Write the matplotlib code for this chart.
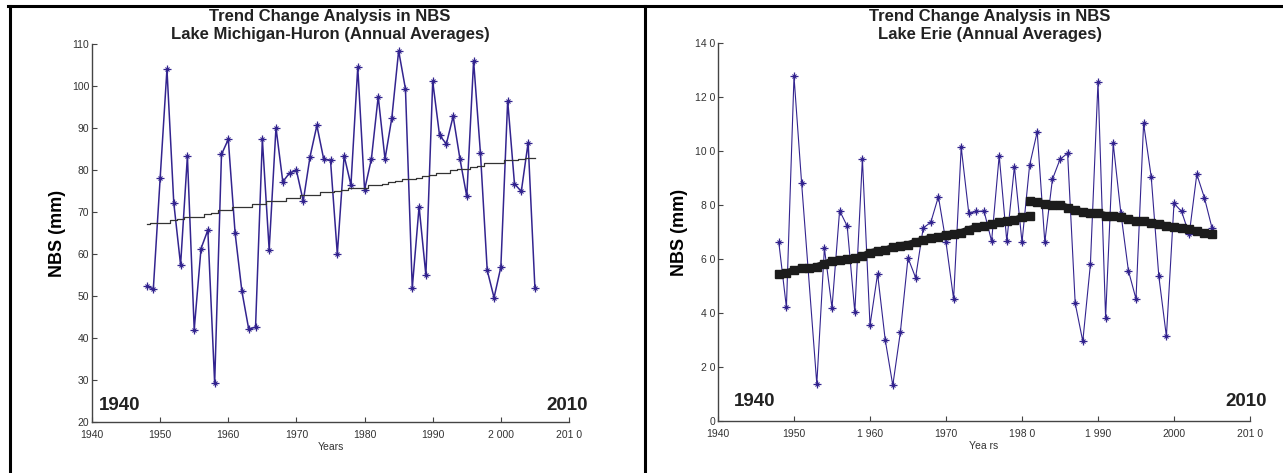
"""Trend change analysis in NBS: Michigan-Huron and Erie, two panels -> out.png"""

import matplotlib

matplotlib.use("Agg")
import matplotlib.pyplot as plt
from matplotlib.lines import Line2D

plt.rcParams["font.family"] = ["Liberation Sans", "DejaVu Sans"]

W, H = 1283, 473

# ── data ──────────────────────────────────────────
YEARS_MH = list(range(1948, 2006))
NBS_MH = [
    52.3, 51.7, 78.0, 104.0, 72.2, 57.4, 83.3, 42.0, 61.3, 65.7,
    29.2, 83.7, 87.3, 65.0, 51.1, 42.1, 42.6, 87.3, 61.0, 90.1,
    77.2, 79.3, 79.9, 72.6, 83.2, 90.6, 82.6, 82.3, 60.0, 83.4,
    76.4, 104.5, 75.3, 82.6, 97.5, 82.6, 92.4, 108.4, 99.3, 51.9,
    71.3, 54.9, 101.1, 88.3, 86.2, 92.8, 82.6, 73.7, 106.0, 84.1,
    56.1, 49.6, 56.9, 96.5, 76.7, 74.9, 86.5, 51.8,
]
TREND_MH = [
    67.2, 67.5, 67.5, 67.5, 68.2, 68.4, 68.9, 68.9, 68.9, 69.6,
    69.7, 70.4, 70.5, 71.1, 71.2, 71.2, 71.9, 72.0, 72.6, 72.6,
    72.6, 73.3, 73.3, 74.0, 74.0, 74.0, 74.7, 74.8, 74.9, 75.2,
    75.8, 75.8, 75.8, 76.5, 76.5, 76.6, 77.2, 77.4, 77.9, 77.9,
    78.0, 78.6, 78.7, 79.3, 79.4, 80.1, 80.2, 80.2, 80.8, 80.9,
    81.6, 81.7, 81.7, 82.3, 82.4, 82.7, 82.8, 82.8,
]

YEARS_ERIE = [1948, 1949, 1950, 1951] + list(range(1953, 2006))
NBS_ERIE = [
    66.2, 42.1, 127.6, 88.2, 13.7, 64.0, 41.9, 77.9, 72.2, 40.3,
    97.1, 35.4, 54.5, 30.1, 13.2, 33.0, 60.4, 53.1, 71.5, 73.6,
    83.1, 66.2, 45.2, 101.4, 76.9, 77.6, 77.8, 66.6, 98.3, 66.6,
    94.2, 66.2, 94.7, 107.1, 66.2, 89.5, 96.9, 99.2, 43.6, 29.5,
    58.0, 125.6, 38.3, 102.8, 77.2, 55.7, 45.2, 110.2, 90.5, 53.7,
    31.3, 80.6, 77.6, 69.1, 91.4, 82.7, 71.5,
]
TREND_ERIE_1_YEARS = list(range(1948, 1982))
TREND_ERIE_1 = [
    54.5, 54.9, 55.8, 56.5, 56.6, 57.2, 58.2, 59.2, 59.5, 60.0,
    60.4, 61.0, 62.3, 63.0, 63.3, 64.3, 65.0, 65.3, 66.3, 67.0,
    67.8, 68.0, 69.0, 69.3, 69.8, 70.9, 71.7, 72.2, 72.8, 73.8,
    74.0, 74.3, 75.5, 76.0,
]
TREND_ERIE_2_YEARS = list(range(1981, 2006))
TREND_ERIE_2 = [
    81.6, 81.0, 80.3, 80.0, 80.0, 79.0, 78.0, 77.5, 77.0, 76.9,
    76.1, 75.8, 75.4, 74.8, 74.0, 73.9, 73.3, 73.1, 72.2, 72.0,
    71.4, 71.0, 70.3, 69.5, 69.2,
]

X_TICKS = [1940, 1950, 1960, 1970, 1980, 1990, 2000, 2010]
X_LABELS_MH = ["1940", "1950", "1960", "1970", "1980", "1990", "2 000", "201 0"]
X_LABELS_ERIE = ["1940", "1950", "1 960", "1970", "198 0", "1 990", "2000", "201 0"]
Y_TICKS_MH = [20, 30, 40, 50, 60, 70, 80, 90, 100, 110]
Y_TICKS_ERIE = [0, 20, 40, 60, 80, 100, 120, 140]
Y_LABELS_ERIE = ["0", "2 0", "4 0", "6 0", "8 0", "10 0", "12 0", "14 0"]

LINE_C = "#33248f"
AX_C = "#444444"


def _ax(fig, x0, y0, x1, y1):
    """axes from pixel box (top-left origin)."""
    return fig.add_axes([x0 / W, 1 - y1 / H, (x1 - x0) / W, (y1 - y0) / H])


def _style(ax, yticks, ylabels, xlabels, xname):
    for s in ("top", "right"):
        ax.spines[s].set_visible(False)
    for s in ("left", "bottom"):
        ax.spines[s].set_color(AX_C)
        ax.spines[s].set_linewidth(1.0)
    ax.set_xlim(1940, 2010)
    ax.set_xticks(X_TICKS)
    ax.set_xticklabels(xlabels)
    ax.set_ylim(yticks[0], yticks[-1])
    ax.set_yticks(yticks)
    ax.set_yticklabels(ylabels)
    ax.tick_params(direction="in", length=3.5, width=0.8, color=AX_C,
                   labelsize=7.5, labelcolor="#333333")
    ax.tick_params(axis="x", pad=5.5)
    ax.tick_params(axis="y", pad=2)
    ax.set_xlabel(xname, fontsize=7.5, color="#333333", labelpad=2)


def _series(ax, years, vals, lw):
    ax.plot(years, vals, "-", color=LINE_C, lw=lw, marker="+", ms=6, mew=0.9)
    ax.plot(years, vals, "x", color=LINE_C, ms=3.5, mew=0.8)


def main() -> None:
    fig = plt.figure(figsize=(W / 100, H / 100), dpi=100)

    # panel frame lines
    px = lambda v: v / W
    py = lambda v: 1 - v / H
    for xs, ys in (([8, W], [6.5, 6.5]), ([10, 10], [6, H]), ([644.5, 644.5], [6, H])):
        fig.add_artist(Line2D([px(v) for v in xs], [py(v) for v in ys],
                              color="black", lw=2.2, transform=fig.transFigure))

    # ── left: Michigan-Huron ──
    ax1 = _ax(fig, 92, 44, 569, 422)
    _series(ax1, YEARS_MH, NBS_MH, 1.1)
    ax1.plot(YEARS_MH, TREND_MH, color="#333333", lw=0.9, drawstyle="steps-mid")
    _style(ax1, Y_TICKS_MH, [str(v) for v in Y_TICKS_MH], X_LABELS_MH, "Years")
    ax1.set_ylabel("NBS (mm)", fontsize=13, fontweight="bold", labelpad=4)

    # ── right: Erie ──
    ax2 = _ax(fig, 718, 43, 1250, 421)
    _series(ax2, YEARS_ERIE, NBS_ERIE, 0.8)
    for yrs, vals in ((TREND_ERIE_1_YEARS, TREND_ERIE_1), (TREND_ERIE_2_YEARS, TREND_ERIE_2)):
        ax2.plot(yrs, vals, color="#1c1c1c", lw=5, marker="s", ms=5.5,
                 solid_capstyle="butt", zorder=3)
    _style(ax2, Y_TICKS_ERIE, Y_LABELS_ERIE, X_LABELS_ERIE, "Yea rs")
    ax2.set_ylabel("NBS (mm)", fontsize=13, fontweight="bold", labelpad=5)

    # titles
    for cx, name in ((330, "Lake Michigan-Huron (Annual Averages)"),
                     (990, "Lake Erie (Annual Averages)")):
        fig.text(px(cx), py(16), "Trend Change Analysis in NBS", ha="center",
                 va="center", fontsize=12, fontweight="bold", color="#222222")
        fig.text(px(cx), py(34), name, ha="center", va="center",
                 fontsize=12, fontweight="bold", color="#222222")

    # period labels
    for x, ha, y, s in ((99, "left", 405, "1940"), (588, "right", 405, "2010"),
                        (734, "left", 401, "1940"), (1267, "right", 401, "2010")):
        fig.text(px(x), py(y), s, ha=ha, va="center", fontsize=13.5,
                 fontweight="bold", color="#222222")

    fig.savefig("out.png", dpi=100)
    plt.close(fig)


if __name__ == "__main__":
    main()
